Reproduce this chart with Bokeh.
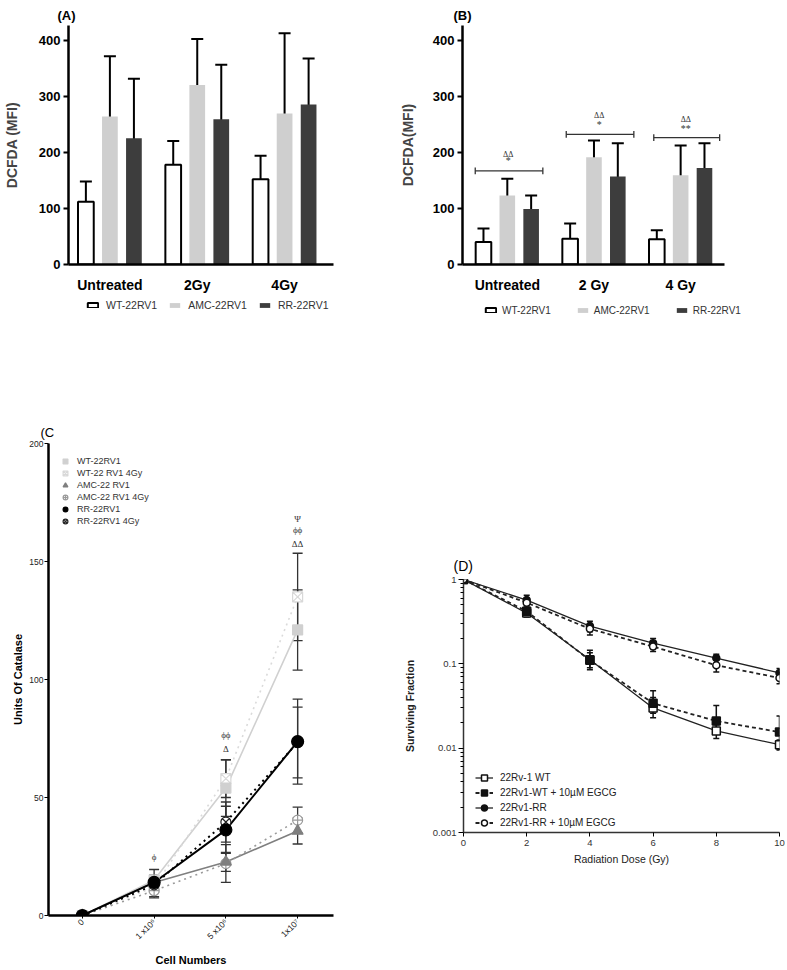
import math
from bokeh.plotting import figure
from bokeh.models import (ColumnDataSource, Whisker, TeeHead, Legend, LegendItem,
                          FixedTicker, CustomJSTickFormatter, Range1d)
from bokeh.layouts import column, row
from bokeh.embed import file_html
from bokeh.resources import INLINE

FONT = "Liberation Sans"
GREEK = "DejaVu Sans"

# ---------------- data ----------------
groups_a = ["Untreated", "2Gy", "4Gy"]
groups_b = ["Untreated", "2 Gy", "4 Gy"]
series_ab = ["WT-22RV1", "AMC-22RV1", "RR-22RV1"]

a_wt = [112, 178, 152]
a_wt_err = [36, 42, 42]
a_amc = [264, 320, 269]
a_amc_err = [107, 82, 143]
a_rr = [225, 259, 285]
a_rr_err = [106, 97, 82]

b_wt = [40, 46, 45]
b_wt_err = [24, 27, 16]
b_amc = [123, 191, 159]
b_amc_err = [30, 30, 53]
b_rr = [99, 157, 172]
b_rr_err = [24, 59, 44]

b_sig_y = [167, 232, 226]
b_sig_lo = [0.63, 1.68, 2.69]
b_sig_hi = [1.41, 2.46, 3.45]
b_sig_x = [1.01, 2.06, 3.06]
b_sig_top = ["ΔΔ", "ΔΔ", "ΔΔ"]
b_sig_top_y = [196, 265, 258]
b_sig_bot = ["*", "*", "**"]
b_sig_bot_y = [185, 249, 242]

c_x = [0, 1, 2, 3]
c_ticklabels = ["0", "1 x10⁶", "5 x10⁶", "1x10⁷"]
c_names = ["WT-22RV1", "WT-22 RV1 4Gy", "AMC-22 RV1", "AMC-22 RV1 4Gy", "RR-22RV1", "RR-22RV1 4Gy"]
c_wt = [0, 15, 54, 121]
c_wt_err = [0, 4.5, 12, 17]
c_wt4 = [0, 12, 58, 135]
c_wt4_err = [0, 4, 8, 18.5]
c_amc = [0, 14, 22.7, 35.8]
c_amc_err = [0, 3, 4, 5.5]
c_amc4 = [0, 10.5, 22, 40.4]
c_amc4_err = [0, 3, 8, 5.5]
c_rr = [0, 14, 36.3, 73.7]
c_rr_err = [0, 3, 10, 18]
c_rr4 = [0, 13, 39.6, 73.3]
c_rr4_err = [0, 3, 8.5, 15]
c_sig_x = [1, 2, 2, 3, 3, 3]
c_sig_y = [25, 76.5, 70.5, 168, 163.5, 157.5]
c_sig_text = ["ϕ", "ϕϕ", "Δ", "Ψ", "ϕϕ", "ΔΔ"]

d_dose = [0, 2, 4, 6, 8, 10]
d_names = ["22Rv-1 WT", "22Rv1-WT + 10µM EGCG", "22Rv1-RR", "22Rv1-RR + 10µM EGCG"]
d_wt = [1, 0.40, 0.112, 0.030, 0.016, 0.011]
d_wt_lo = [1, 0.36, 0.085, 0.023, 0.013, 0.0098]
d_wt_hi = [1, 0.45, 0.145, 0.040, 0.019, 0.0125]
d_wte = [1, 0.42, 0.110, 0.034, 0.021, 0.0155]
d_wte_lo = [1, 0.37, 0.090, 0.026, 0.015, 0.0095]
d_wte_hi = [1, 0.47, 0.135, 0.048, 0.032, 0.024]
d_rr = [1, 0.57, 0.28, 0.176, 0.117, 0.078]
d_rr_lo = [1, 0.50, 0.24, 0.150, 0.100, 0.068]
d_rr_hi = [1, 0.65, 0.32, 0.200, 0.130, 0.088]
d_rre = [1, 0.53, 0.26, 0.160, 0.096, 0.068]
d_rre_lo = [1, 0.47, 0.22, 0.140, 0.080, 0.058]
d_rre_hi = [1, 0.60, 0.30, 0.180, 0.110, 0.080]

H1 = 295   # bar charts
HL = 35    # legend strip under the bar charts
H2 = 638   # lower row

BAR_FILL = ["white", "#cfcfcf", "#3d3d3d"]
BAR_LINE = ["black", None, None]
GX = [1, 2, 3]


def whisker(p, x, lo, hi, size=12, width=2, color="black"):
    src = ColumnDataSource(dict(x=x, lo=lo, hi=hi))
    w = Whisker(base="x", lower="lo", upper="hi", source=src, line_color=color, line_width=width,
                upper_head=TeeHead(size=size, line_color=color, line_width=width),
                lower_head=TeeHead(size=size, line_color=color, line_width=width))
    p.add_layout(w)


def minus(v, e):
    return [a - b for a, b in zip(v, e)]


def plus(v, e):
    return [a + b for a, b in zip(v, e)]


def set_title(p, text, size, style, offset, standoff):
    p.title.text = text
    p.title.align = "left"
    p.title.offset = offset
    p.title.standoff = standoff
    p.title.text_font = FONT
    p.title.text_font_size = size
    p.title.text_font_style = style
    p.title.text_color = "black"


def bar_panel(tag, ylabel, ticklabels, wt, wt_err, amc, amc_err, rr, rr_err, width, left, right,
              x_start, x_end, tag_off, ylabel_standoff):
    p = figure(width=width, height=H1, x_range=Range1d(x_start, x_end), y_range=Range1d(0, 426),
               output_backend="svg", toolbar_location=None, frame_align=False,
               min_border_left=left, min_border_right=right, min_border_top=25,
               min_border_bottom=H1 - 268)
    set_title(p, tag, "13px", "bold", tag_off, 5)
    off = 0.275
    bw = 0.18
    xs = [[g - off for g in GX], GX, [g + off for g in GX]]
    vals = [(wt, wt_err), (amc, amc_err), (rr, rr_err)]
    for i in range(3):
        p.vbar(x=xs[i], top=vals[i][0], width=bw, fill_color=BAR_FILL[i], line_color=BAR_LINE[i],
               line_width=2)
    for i in range(3):
        whisker(p, xs[i], minus(*vals[i]), plus(*vals[i]))

    p.xgrid.visible = False
    p.ygrid.visible = False
    p.outline_line_color = None
    p.xaxis.ticker = FixedTicker(ticks=GX)
    p.xaxis.major_label_overrides = {g: t for g, t in zip(GX, ticklabels)}
    p.xaxis.major_tick_line_color = None
    p.xaxis.minor_tick_line_color = None
    p.xaxis.axis_line_width = 2.5
    p.xaxis.major_label_text_font = FONT
    p.xaxis.major_label_text_font_size = "14px"
    p.xaxis.major_label_text_font_style = "bold"
    p.xaxis.major_label_text_color = "black"
    p.xaxis.major_label_standoff = 6
    p.yaxis.ticker = FixedTicker(ticks=[0, 100, 200, 300, 400])
    p.yaxis.minor_tick_line_color = None
    p.yaxis.axis_line_width = 2.5
    p.yaxis.major_tick_line_width = 2
    p.yaxis.major_tick_out = 5
    p.yaxis.major_tick_in = 0
    p.yaxis.major_label_standoff = 3
    p.yaxis.major_label_text_font = FONT
    p.yaxis.major_label_text_font_size = "13px"
    p.yaxis.major_label_text_font_style = "bold"
    p.yaxis.major_label_text_color = "black"
    p.yaxis.axis_label = ylabel
    p.yaxis.axis_label_text_font = FONT
    p.yaxis.axis_label_text_font_size = "14px"
    p.yaxis.axis_label_text_font_style = "bold"
    p.yaxis.axis_label_standoff = ylabel_standoff
    return p


def bar_legend(width, series_vals, lx, ly, spacing, standoff, fsize):
    # a strip holding the legend of the bar chart above it; the bar renderers are hidden
    q = figure(width=width, height=HL, x_range=Range1d(0, 1), y_range=Range1d(0, 1),
               output_backend="svg", toolbar_location=None, frame_align=False,
               min_border_left=0, min_border_right=0, min_border_top=0, min_border_bottom=0,
               x_axis_location=None, y_axis_location=None)
    q.xgrid.visible = False
    q.ygrid.visible = False
    q.outline_line_color = None
    items = []
    for i in range(3):
        r = q.vbar(x=GX, top=series_vals[i], width=0.1, fill_color=BAR_FILL[i], line_color=BAR_LINE[i],
                   line_width=2, visible=False)
        items.append(LegendItem(label=series_ab[i], renderers=[r]))
    leg = Legend(items=items, orientation="horizontal", location=(lx, ly),
                 glyph_width=13, glyph_height=6, label_height=12, label_standoff=standoff,
                 spacing=spacing, padding=0, margin=0, inactive_fill_alpha=0,
                 border_line_color=None, background_fill_alpha=0,
                 label_text_font=FONT, label_text_font_size=fsize, label_text_color="#333333")
    q.add_layout(leg)
    return q


pA = bar_panel("(A)", "DCFDA (MFI)", groups_a, a_wt, a_wt_err, a_amc, a_amc_err, a_rr, a_rr_err,
               390, 68, 57, 0.526, 3.56, -11, 16)
pB = bar_panel("(B)", "DCFDA(MFI)", groups_b, b_wt, b_wt_err, b_amc, b_amc_err, b_rr, b_rr_err,
               397, 72, 63, 0.483, 3.506, -9, 14)
lA = bar_legend(390, [a_wt, a_amc, a_rr], 86, 19, 11, 7, "10.5px")
lB = bar_legend(397, [b_wt, b_amc, b_rr], 94, 14, 25, 5, "10px")

# significance brackets in B
pB.segment(x0=b_sig_lo, x1=b_sig_hi, y0=b_sig_y, y1=b_sig_y, line_color="#333333", line_width=1.3)
pB.segment(x0=b_sig_lo, x1=b_sig_lo, y0=[v - 6 for v in b_sig_y], y1=[v + 6 for v in b_sig_y],
           line_color="#333333", line_width=1.3)
pB.segment(x0=b_sig_hi, x1=b_sig_hi, y0=[v - 6 for v in b_sig_y], y1=[v + 6 for v in b_sig_y],
           line_color="#333333", line_width=1.3)
pB.text(x=b_sig_x, y=b_sig_top_y, text=b_sig_top, text_align="center", text_baseline="middle",
        text_font=GREEK, text_font_size="8px", text_color="#333333")
pB.text(x=b_sig_x, y=b_sig_bot_y, text=b_sig_bot, text_align="center", text_baseline="middle",
        text_font=FONT, text_font_size="10px", text_color="#333333")

# ---------------- panel C ----------------
pC = figure(width=350, height=H2, x_range=Range1d(-0.472, 3.5), y_range=Range1d(0, 200),
            output_backend="svg", toolbar_location=None, frame_align=False,
            min_border_left=48, min_border_right=17, min_border_top=113, min_border_bottom=50)
set_title(pC, "(C", "13px", "normal", -8, 7)
pC.xgrid.visible = False
pC.ygrid.visible = False
pC.outline_line_color = None

styles = [
    (c_wt, c_wt_err, "#d0d0d0", "solid", "square", "#d0d0d0", "#d0d0d0", 10),
    (c_wt4, c_wt4_err, "#dadada", "dotted", "square_x", "white", "#d8d8d8", 10),
    (c_amc, c_amc_err, "#7f7f7f", "solid", "triangle", "#7f7f7f", "#7f7f7f", 11),
    (c_amc4, c_amc4_err, "#9a9a9a", "dotted", "circle_cross", "white", "#9a9a9a", 10),
    (c_rr, c_rr_err, "black", "solid", "circle", "black", "black", 12),
    (c_rr4, c_rr4_err, "black", "dotted", "circle_x", "white", "#222222", 10),
]
for (ys, es, lc, dash, mk, fc, mlc, sz) in styles:
    pC.line(c_x, ys, line_color=lc, line_width=2 if lc == "black" else 1.6, line_dash=dash)
for (ys, es, lc, dash, mk, fc, mlc, sz) in styles:
    whisker(pC, c_x, minus(ys, es), plus(ys, es), size=10, width=1.3, color="#333333")
c_rend = {}
# draw the open (4Gy) markers first, solid markers on top
for idx in [1, 3, 5, 0, 2, 4]:
    ys, es, lc, dash, mk, fc, mlc, sz = styles[idx]
    c_rend[idx] = pC.scatter(c_x, ys, marker=mk, size=sz, fill_color=fc, line_color=mlc, line_width=1.2)
c_items = [LegendItem(label=c_names[i], renderers=[c_rend[i]]) for i in range(6)]

pC.text(x=c_sig_x, y=c_sig_y, text=c_sig_text, text_align="center", text_baseline="middle",
        text_font=GREEK, text_font_size="9px", text_color="#333333")

pC.xaxis.ticker = FixedTicker(ticks=c_x)
pC.xaxis.major_label_overrides = {v: t for v, t in zip(c_x, c_ticklabels)}
pC.xaxis.major_label_orientation = math.pi / 4
pC.xaxis.minor_tick_line_color = None
pC.xaxis.major_tick_out = 3
pC.xaxis.major_tick_in = 0
pC.xaxis.axis_line_width = 2.5
pC.xaxis.major_label_text_font = FONT
pC.xaxis.major_label_text_font_size = "8.5px"
pC.xaxis.major_label_text_color = "#222222"
pC.xaxis.major_label_standoff = 2
pC.xaxis.axis_label = "Cell Numbers"
pC.xaxis.axis_label_text_font = FONT
pC.xaxis.axis_label_text_font_size = "11px"
pC.xaxis.axis_label_text_font_style = "bold"
pC.xaxis.axis_label_text_color = "black"
pC.xaxis.axis_label_standoff = 6
pC.yaxis.ticker = FixedTicker(ticks=[0, 50, 100, 150, 200])
pC.yaxis.minor_tick_line_color = None
pC.yaxis.axis_line_width = 2.5
pC.yaxis.major_tick_out = 4
pC.yaxis.major_tick_in = 0
pC.yaxis.major_label_standoff = 1
pC.yaxis.major_label_text_font = FONT
pC.yaxis.major_label_text_font_size = "8.5px"
pC.yaxis.major_label_text_color = "#222222"
pC.yaxis.axis_label = "Units Of Catalase"
pC.yaxis.axis_label_text_font = FONT
pC.yaxis.axis_label_text_font_size = "11px"
pC.yaxis.axis_label_text_font_style = "bold"
pC.yaxis.axis_label_text_color = "black"
pC.yaxis.axis_label_standoff = 2

legC = Legend(items=c_items, location=(11, 388), glyph_width=12, glyph_height=12, label_height=12,
              label_standoff=6, spacing=0, padding=0, margin=0, border_line_color=None,
              background_fill_alpha=0, label_text_font=FONT, label_text_font_size="9px",
              label_text_color="#333333")
pC.add_layout(legC)

# ---------------- panel D ----------------
pD = figure(width=437, height=H2, x_range=Range1d(0, 10), y_range=Range1d(0.001, 1), y_axis_type="log",
            output_backend="svg", toolbar_location=None, frame_align=False,
            min_border_left=113, min_border_right=8, min_border_top=249, min_border_bottom=H2 - 502)
set_title(pD, "(D)", "14px", "normal", -10, 11)
pD.xgrid.visible = False
pD.ygrid.visible = False
pD.outline_line_color = None

dstyles = [
    (d_wt, d_wt_lo, d_wt_hi, "solid", 1.3, "square", "white", 8),
    (d_wte, d_wte_lo, d_wte_hi, "4 3", 1.8, "square", "#111111", 8),
    (d_rr, d_rr_lo, d_rr_hi, "solid", 1.3, "circle", "#111111", 7),
    (d_rre, d_rre_lo, d_rre_hi, "4 3", 1.8, "circle", "white", 7),
]
d_items = []
for (ys, lo, hi, dash, lw, mk, fc, sz), name in zip(dstyles, d_names):
    rl = pD.line(d_dose, ys, line_color="#222222", line_width=lw, line_dash=dash)
    whisker(pD, d_dose, lo, hi, size=6, width=1.5, color="#111111")
    rs = pD.scatter(d_dose, ys, marker=mk, size=sz, fill_color=fc, line_color="#111111", line_width=1.5)
    d_items.append(LegendItem(label=name, renderers=[rl, rs]))

pD.xaxis.ticker = FixedTicker(ticks=[0, 2, 4, 6, 8, 10])
pD.xaxis.minor_tick_line_color = None
pD.xaxis.major_tick_out = 4
pD.xaxis.major_tick_in = 0
pD.xaxis.axis_line_width = 1.5
pD.xaxis.axis_line_color = "#333333"
pD.xaxis.major_label_text_font = FONT
pD.xaxis.major_label_text_font_size = "9.5px"
pD.xaxis.major_label_text_color = "#333333"
pD.xaxis.major_label_standoff = 3
pD.xaxis.axis_label = "Radiation Dose (Gy)"
pD.xaxis.axis_label_text_font = FONT
pD.xaxis.axis_label_text_font_size = "10.5px"
pD.xaxis.axis_label_text_font_style = "normal"
pD.xaxis.axis_label_text_color = "#222222"
pD.xaxis.axis_label_standoff = 4
pD.yaxis.ticker = FixedTicker(ticks=[0.001, 0.01, 0.1, 1],
                              minor_ticks=[k * 10 ** e for e in (-3, -2, -1) for k in range(2, 10)])
pD.yaxis.formatter = CustomJSTickFormatter(code="return tick.toString();")
pD.yaxis.axis_line_width = 1.5
pD.yaxis.axis_line_color = "#333333"
pD.yaxis.major_tick_out = 5
pD.yaxis.major_tick_in = 0
pD.yaxis.minor_tick_out = 3
pD.yaxis.minor_tick_in = 0
pD.yaxis.major_label_standoff = 2
pD.yaxis.major_label_text_font = FONT
pD.yaxis.major_label_text_font_size = "9.5px"
pD.yaxis.major_label_text_color = "#333333"
pD.yaxis.axis_label = "Surviving Fraction"
pD.yaxis.axis_label_text_font = FONT
pD.yaxis.axis_label_text_font_size = "10.5px"
pD.yaxis.axis_label_text_font_style = "bold"
pD.yaxis.axis_label_text_color = "#222222"
pD.yaxis.axis_label_standoff = 14

legD = Legend(items=d_items, location=(12, 2), glyph_width=18, glyph_height=15, label_height=15,
              label_standoff=7, spacing=0, padding=0, margin=0, border_line_color=None,
              background_fill_alpha=0, label_text_font=FONT, label_text_font_size="10px",
              label_text_color="#222222")
pD.add_layout(legD)

layout = column(row(pA, pB, spacing=0), row(lA, lB, spacing=0), row(pC, pD, spacing=0), spacing=0)
open("out.html", "w").write(file_html(layout, INLINE))
